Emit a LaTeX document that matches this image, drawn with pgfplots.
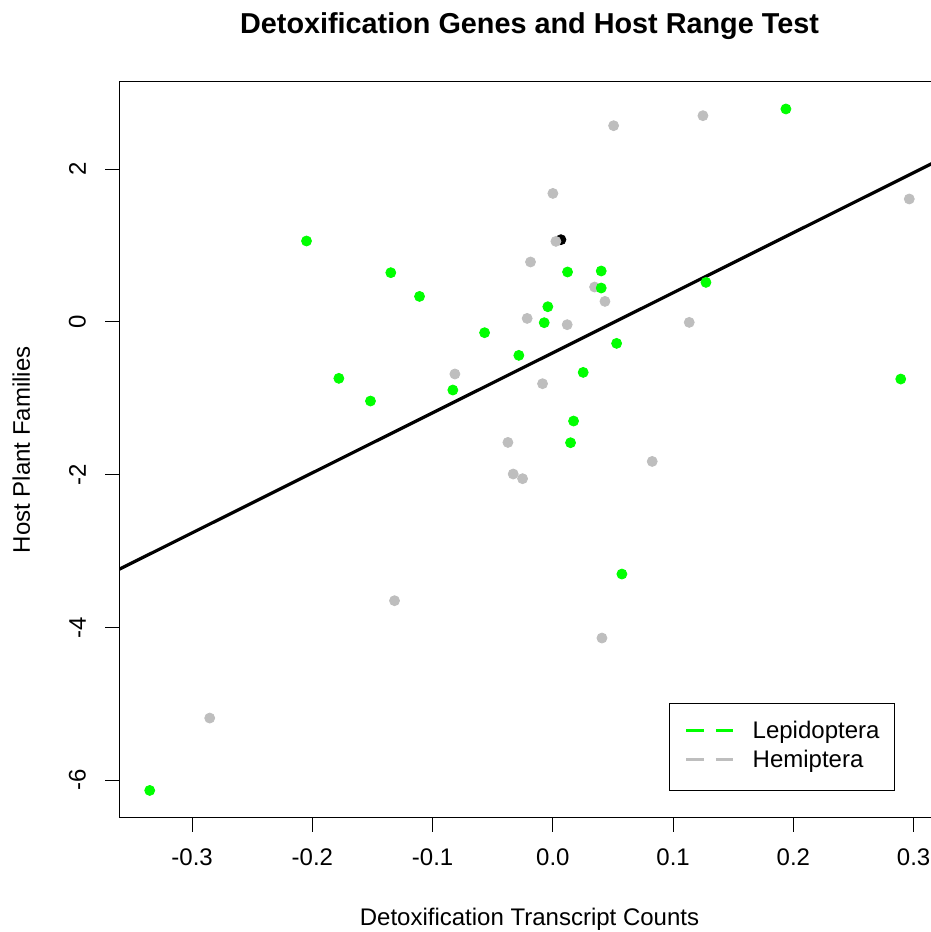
\documentclass[border=0pt]{standalone}
\usepackage{fontspec}
\setmainfont{Liberation Sans}
\usepackage{pgfplots}
\usepackage{pgfplotstable}
\pgfplotsset{compat=1.18}

\definecolor{lepi}{RGB}{0,255,0}
\definecolor{hemi}{RGB}{190,190,190}

% Lepidoptera species
\pgfplotstableread{
x y
-0.2049 1.061
-0.1348 0.646
-0.1109 0.335
-0.0568 -0.140
-0.0283 -0.437
-0.1780 -0.738
-0.1517 -1.035
-0.0832 -0.891
0.1938 2.790
0.0122 0.655
0.0402 0.668
0.0402 0.445
0.1273 0.519
-0.0042 0.200
-0.0072 -0.009
0.0530 -0.280
0.0252 -0.660
0.2893 -0.747
0.0172 -1.297
0.0147 -1.581
0.0574 -3.301
-0.3353 -6.135
}\lepidoptera

% Hemiptera species
\pgfplotstableread{
x y
-0.0815 -0.681
-0.0374 -1.577
0.0505 2.571
0.1248 2.702
0.0000 1.684
0.0025 1.056
-0.0186 0.786
0.0347 0.458
0.0433 0.270
-0.0214 0.047
0.0119 -0.035
0.1134 -0.005
0.2964 1.611
-0.0086 -0.808
0.0826 -1.826
-0.0330 -1.991
-0.0252 -2.052
0.0408 -4.139
-0.1317 -3.650
-0.2854 -5.187
}\hemiptera

\begin{document}
\begin{tikzpicture}
\useasboundingbox (-59.65pt,-57.15pt) rectangle ++(465.5pt,466pt);
\begin{axis}[
  at={(0,0)}, anchor=south west,
  scale only axis, width=410.2pt, height=368pt,
  xmin=-0.3606, xmax=0.3217, ymin=-6.492, ymax=3.147,
  axis line style={line width=0.5pt, black},
  tick style={line width=0.5pt, black},
  tick align=outside, major tick length=7pt,
  xtick={-0.3,-0.2,-0.1,0,0.1,0.2,0.3},
  xticklabels={-0.3,-0.2,-0.1,0.0,0.1,0.2,0.3},
  ytick={-6,-4,-2,0,2},
  yticklabels={-6,-4,-2,0,2},
  xtick pos=left, ytick pos=left,
  tick label style={font=\fontsize{12}{14.4}\selectfont},
  xticklabel style={anchor=north, yshift=-5pt},
  yticklabel style={rotate=90, anchor=south, inner ysep=9.5pt},
  title={Detoxification Genes and Host Range Test},
  every axis title/.style={at={(rel axis cs:0.5,1.0658)}, anchor=base,
    font=\fontsize{14.4}{17}\selectfont\bfseries},
  xlabel={Detoxification Transcript Counts},
  every axis x label/.style={at={(rel axis cs:0.5,-0.1467)}, anchor=base,
    font=\fontsize{12}{14.4}\selectfont},
  ylabel={Host Plant Families},
  every axis y label/.style={at={(rel axis cs:-0.1089,0.5)}, anchor=base, rotate=90,
    font=\fontsize{12}{14.4}\selectfont},
  legend style={at={(rel axis cs:0.9455,0.0367)}, anchor=south east,
    draw=black, line width=0.5pt, inner xsep=7.5pt, inner ysep=7.3pt,
    row sep=0.4pt, font=\fontsize{12}{14.4}\selectfont,
    nodes={inner xsep=0pt, inner ysep=1.5pt, text height=8.6pt, text depth=2.5pt}},
  legend cell align=left,
  legend image code/.code={
    \path (0pt,0pt) (33pt,0pt);
    \draw[#1, line width=1.6pt, dash pattern=on 9pt off 5.8pt] (0pt,0.8pt) -- (23.3pt,0.8pt);
  },
]
\addlegendimage{lepi}
\addlegendentry{Lepidoptera}
\addlegendimage{hemi}
\addlegendentry{Hemiptera}

\addplot[only marks, mark=*, mark size=2.5pt, color=black] coordinates {(0.0067,1.078)};
\addplot[only marks, mark=*, mark size=2.5pt, color=hemi] table[x=x, y=y] {\hemiptera};
\addplot[only marks, mark=*, mark size=2.5pt, color=lepi] table[x=x, y=y] {\lepidoptera};
\addplot[black, line width=1.6pt] coordinates {(-0.3606,-3.238) (0.3217,2.126)};
\end{axis}
\end{tikzpicture}
\end{document}
